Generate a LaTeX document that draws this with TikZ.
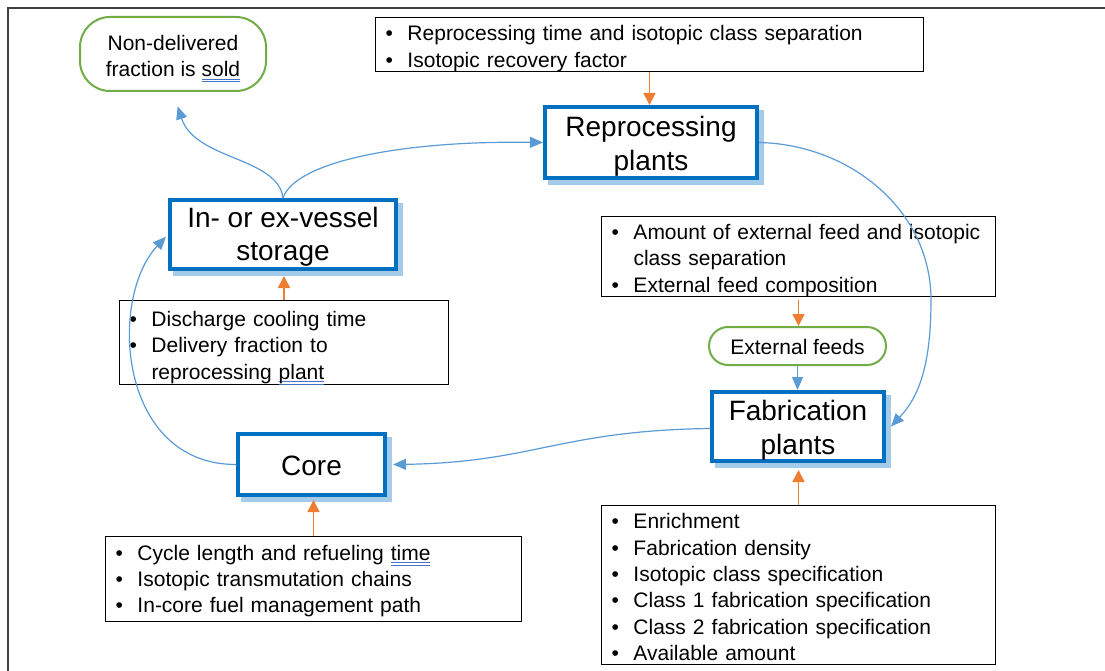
\documentclass[tikz,border=0pt]{standalone}
\usepackage{fontspec}
\setmainfont{Liberation Sans}
\usetikzlibrary{arrows.meta}

\definecolor{boxblue}{HTML}{0070C0}
\definecolor{linkblue}{HTML}{5B9BD5}
\definecolor{shadowblue}{HTML}{A5CBEB}
\definecolor{feedorange}{HTML}{ED7D31}
\definecolor{feedgreen}{HTML}{70AD47}
\definecolor{markblue}{HTML}{4472C4}
\definecolor{framegray}{HTML}{404040}

% double blue proofing underline under a word
\newsavebox\markbox
\newcommand\spellmark[1]{\sbox\markbox{#1}\rlap{\color{markblue}\rule[-3pt]{\wd\markbox}{0.9pt}\llap{\rule[-5.5pt]{\wd\markbox}{0.9pt}}}\usebox\markbox}
% bullet list helpers
\newcommand\bitem{\makebox[22pt][l]{\textbullet}}
\newcommand\bcont{\hspace*{22pt}}
% invisible strut that lowers a node's text block
\newcommand\lift[1]{\rule{0pt}{#1}}

\begin{document}
\begin{tikzpicture}[x=1pt,y=-1pt,
  stage/.style={draw=boxblue, line width=4pt, fill=white, align=center,
    font=\fontsize{28}{33.5}\selectfont, inner sep=0pt,
    preaction={fill=shadowblue, draw=shadowblue, line width=4pt,
      transform canvas={shift={(5pt,-5pt)}}}},
  info/.style={draw=black, line width=1.3pt, fill=white, align=left,
    font=\fontsize{21}{26.4}\selectfont, inner xsep=10pt, inner ysep=0pt},
  outcome/.style={draw=feedgreen, line width=2pt, fill=white, align=center,
    font=\fontsize{21}{26}\selectfont, inner sep=0pt},
  link/.style={draw=linkblue, line width=1.2pt, -{Triangle[length=13pt,width=11pt]}},
  param/.style={draw=feedorange, line width=1.5pt, -{Triangle[length=12pt,width=12pt]}}
]
\useasboundingbox (0,0) rectangle (1105,671);

% frame
\draw[framegray, line width=2pt] (8,671) -- (8,8) -- (1105,8);

% outcome of storage
\node[outcome, rounded corners=30pt, minimum width=186pt, minimum height=74pt]
  (sold) at (173,54) {\lift{25pt}Non-delivered\\fraction is \spellmark{sold}};

% reprocessing
\node[info, text width=528pt, minimum height=54pt] (repinfo) at (649.5,44.5)
  {\lift{23pt}\bitem Reprocessing time and isotopic class separation\\
   \bitem Isotopic recovery factor};
\node[stage, minimum width=212pt, minimum height=71pt] (rep) at (651,142.5)
  {\lift{28pt}Reprocessing\\plants};

% storage
\node[stage, minimum width=226pt, minimum height=69pt] (stor) at (283,234.5)
  {\lift{24.5pt}In- or ex-vessel\\storage};
\node[info, text width=309pt, minimum height=78pt] (storinfo) at (284,342.5)
  {\lift{26pt}\bitem Discharge cooling time\\
   \bitem Delivery fraction to\\
   \bcont reprocessing \spellmark{plant}};

% core
\node[stage, minimum width=147pt, minimum height=61pt] (core) at (311.5,464.5)
  {\lift{22pt}Core};
\node[info, text width=396pt, minimum height=85pt] (coreinfo) at (313.5,579)
  {\lift{19.5pt}\bitem Cycle length and refueling \spellmark{time}\\
   \bitem Isotopic transmutation chains\\
   \bitem In-core fuel management path};

% external feeds
\node[info, text width=374pt, minimum height=80pt] (extinfo) at (798.5,256.5)
  {\lift{23pt}\bitem Amount of external feed and isotopic\\
   \bcont class separation\\
   \bitem External feed composition};
\node[outcome, rounded corners=19pt, minimum width=177pt, minimum height=38pt]
  (ext) at (797.5,346) {\lift{17pt}External feeds};

% fabrication
\node[stage, minimum width=172pt, minimum height=69pt] (fab) at (798,426.5)
  {\lift{28pt}Fabrication\\plants};
\node[info, text width=374pt, minimum height=159pt] (fabinfo) at (798.5,585)
  {\lift{19.5pt}\bitem Enrichment\\
   \bitem Fabrication density\\
   \bitem Isotopic class specification\\
   \bitem Class 1 fabrication specification\\
   \bitem Class 2 fabrication specification\\
   \bitem Available amount};

% material flow
\coordinate (rfbend) at (931,300);
\draw[link] (stor.north) .. controls +(12,-36) and +(-143,-2) .. (rep.west);
\draw[link, shorten >=15pt] (stor.north) .. controls +(-5,-41) and +(22,68) .. (sold.south);
\draw[link] (rep.east) .. controls +(91,2) and +(0,-90) .. (rfbend)
  .. controls +(0,70) and +(26,-28) .. ([xshift=5pt]fab.east);
\draw[link] ([yshift=-2pt]fab.west) .. controls +(-150,2) and +(140,-2) .. ([xshift=6pt]core.east);
\draw[link, shorten >=3pt] (core.west) .. controls +(-118,0) and +(-60,64) .. (stor.west);
\draw[link] (ext.south) -- (ext.south |- fab.north);

% parameters feeding each stage
\draw[param] (repinfo.south) -- (repinfo.south |- rep.north);
\draw[param, shorten >=5pt] (storinfo.north) -- (storinfo.north |- stor.south);
\draw[param, shorten >=3pt] (coreinfo.north) -- (coreinfo.north |- core.south);
\draw[param, shorten >=7pt] (fabinfo.north) -- (fabinfo.north |- fab.south);
\draw[param, shorten <=3pt] (extinfo.south) -- (extinfo.south |- ext.north);
\end{tikzpicture}
\end{document}
